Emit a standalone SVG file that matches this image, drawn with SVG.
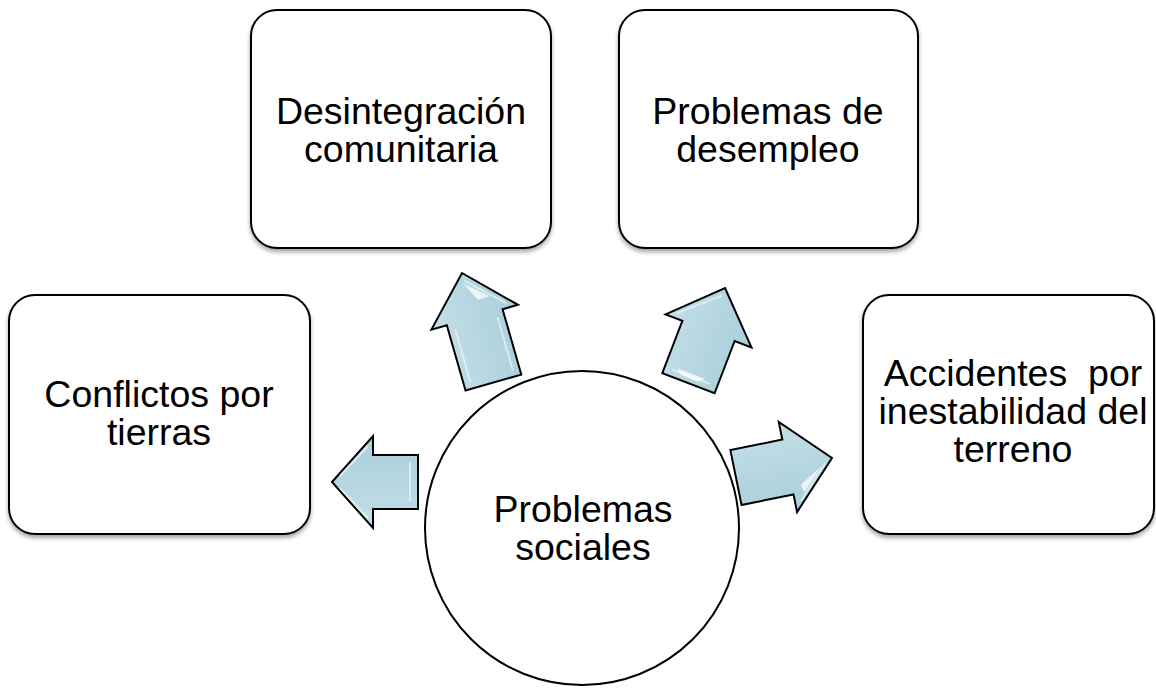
<svg xmlns="http://www.w3.org/2000/svg" width="1156" height="688" viewBox="0 0 1156 688">
  <defs>
    <filter id="shadow" x="-10%" y="-10%" width="120%" height="125%">
      <feDropShadow dx="0" dy="3" stdDeviation="2" flood-color="#000" flood-opacity="0.35"/>
    </filter>
    <linearGradient id="arrowFill" x1="0" y1="0" x2="1" y2="0">
      <stop offset="0" stop-color="#c4dfe8"/>
      <stop offset="0.5" stop-color="#b6d6e1"/>
      <stop offset="1" stop-color="#a9cfdb"/>
    </linearGradient>
  </defs>
  <style>
    .box { fill: #ffffff; stroke: #000000; stroke-width: 2; }
    .circle { fill: #ffffff; stroke: #000000; stroke-width: 2; }
    .arrow { fill: url(#arrowFill); stroke: #000000; stroke-width: 2; stroke-linejoin: miter; }
    .bevel { fill: none; stroke: #e4f1f5; stroke-width: 2; opacity: 0.8; }
    .hl { fill: #ffffff; opacity: 0.75; }
    .label { font-family: "Liberation Sans", Arial, sans-serif; font-size: 37.5px; fill: #000000; text-anchor: middle; white-space: pre; }
  </style>

  <g id="connectors">
    <g id="arrow-up-left" transform="translate(462,273) rotate(-16)">
      <path class="arrow" d="M0,0 L45,46 L29,46 L29,114 L-29,114 L-29,46 L-45,46 Z"/>
      <path class="bevel" d="M0,8 L34,41 M-22,52 L-22,108 M22,52 L22,108"/>
      <path class="hl" d="M-2,10 L20,30 L8,30 Z"/>
    </g>
    <g id="arrow-up-right" transform="translate(725,288) rotate(21)">
      <path class="arrow" d="M0,0 L46,46 L28,46 L28,102 L-28,102 L-28,46 L-46,46 Z"/>
      <path class="bevel" d="M0,8 L-36,41 M-20,95 L20,95"/>
      <path class="hl" d="M-16,92 L14,92 L8,97 L-10,97 Z"/>
    </g>
    <g id="arrow-left" transform="translate(332,482) rotate(-90)">
      <path class="arrow" d="M0,0 L46,41 L27,41 L27,86 L-27,86 L-27,41 L-46,41 Z"/>
      <path class="bevel" d="M-6,8 L-36,36 M6,8 L36,36 M-20,78 L20,78"/>
    </g>
    <g id="arrow-right" transform="translate(832,458) rotate(78.5)">
      <path class="arrow" d="M0,0 L46,45 L28,45 L28,98 L-28,98 L-28,45 L-46,45 Z"/>
      <path class="bevel" d="M4,8 L36,39"/>
      <path class="hl" d="M6,12 L28,34 L20,36 Z"/>
    </g>
  </g>

  <g id="node-desintegracion">
    <rect class="box" x="251" y="10" width="300" height="238" rx="26" ry="26" filter="url(#shadow)"/>
    <text class="label"><tspan x="401" y="124">Desintegración</tspan><tspan x="401" y="162">comunitaria</tspan></text>
  </g>

  <g id="node-desempleo">
    <rect class="box" x="619" y="10" width="299" height="238" rx="26" ry="26" filter="url(#shadow)"/>
    <text class="label"><tspan x="768" y="124">Problemas de</tspan><tspan x="768" y="162">desempleo</tspan></text>
  </g>

  <g id="node-conflictos">
    <rect class="box" x="9" y="295" width="301" height="239" rx="26" ry="26" filter="url(#shadow)"/>
    <text class="label"><tspan x="159" y="407">Conflictos por</tspan><tspan x="159" y="445">tierras</tspan></text>
  </g>

  <g id="node-accidentes">
    <rect class="box" x="863" y="295" width="291" height="239" rx="26" ry="26" filter="url(#shadow)"/>
    <text class="label"><tspan x="1013" y="386">Accidentes  por</tspan><tspan x="1013" y="424">inestabilidad del</tspan><tspan x="1013" y="462">terreno</tspan></text>
  </g>

  <g id="node-problemas-sociales">
    <circle class="circle" cx="582" cy="528" r="157"/>
    <text class="label"><tspan x="583" y="522">Problemas</tspan><tspan x="583" y="560">sociales</tspan></text>
  </g>
</svg>
